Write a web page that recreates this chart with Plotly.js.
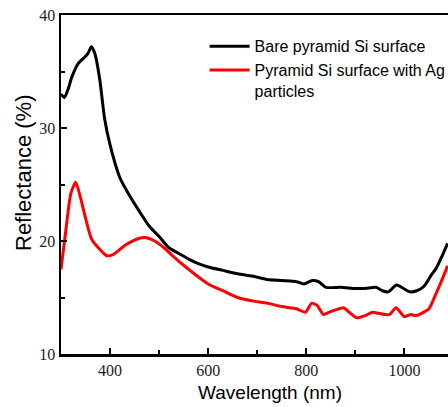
<!DOCTYPE html>
<html>
<head>
<meta charset="utf-8">
<script src="https://cdn.plot.ly/plotly-3.0.1.min.js"></script>
<style>
html,body{margin:0;padding:0;background:#fff;overflow:hidden;}
#frame{width:448px;height:407px;overflow:hidden;}
#chart{width:480px;height:407px;}
</style>
</head>
<body>
<div id="frame"><div id="chart"></div></div>
<script>
// Bare pyramid Si surface
const bareWavelength = [300,307,315,322,335,349,355,362,369,379,389,400,420,440,460,480,500,520,540,560,580,600,630,660,690,720,750,780,795,812,825,840,870,900,920,942,955,967,984,998,1011,1025,1040,1055,1065,1076,1088];
const bareReflectance = [33.0,32.7,33.5,34.5,35.7,36.3,36.6,37.2,36.6,34.3,30.8,28.5,25.6,24.0,22.6,21.3,20.4,19.4,18.9,18.4,18.0,17.7,17.4,17.1,16.9,16.6,16.5,16.4,16.2,16.5,16.4,15.9,15.9,15.8,15.8,15.9,15.6,15.5,16.1,15.8,15.5,15.6,16.0,17.0,17.6,18.6,19.8];

// Pyramid Si surface with Ag particles
const agWavelength = [300,310,320,330,340,349,362,376,393,406,430,457,471,491,510,530,560,600,630,660,690,720,750,780,798,811,822,835,847,860,876,890,903,920,935,947,960,970,983,1000,1013,1023,1035,1050,1064,1075,1088];
const agReflectance = [17.5,21.0,24.2,25.2,23.8,22.2,20.2,19.4,18.7,18.8,19.6,20.2,20.3,20.0,19.4,18.6,17.5,16.2,15.6,15.0,14.7,14.5,14.2,14.0,13.7,14.5,14.3,13.5,13.7,13.9,14.1,13.6,13.2,13.4,13.7,13.6,13.5,13.5,14.1,13.3,13.5,13.4,13.6,14.0,15.3,16.4,17.8];

const seriesNames = ["Bare pyramid Si surface", "Pyramid Si surface with Ag<br>particles"];
const xTickValues = [400, 600, 800, 1000];
const yTickValues = [10, 20, 30, 40];

const traces = [
  {x: bareWavelength, y: bareReflectance, name: seriesNames[0], type: 'scatter', mode: 'lines',
   line: {color: '#000000', width: 3, shape: 'spline', smoothing: 0.6}},
  {x: agWavelength, y: agReflectance, name: seriesNames[1], type: 'scatter', mode: 'lines',
   line: {color: '#ff0000', width: 3, shape: 'spline', smoothing: 0.6}}
];

const tickFont = {family: '"Liberation Serif", "Times New Roman", serif', size: 16, color: '#222'};
const sansFont = '"Liberation Sans", Arial, sans-serif';
const plotW = 418; // plot area width in px (61 .. 479), right part cropped by the 448px window
const layout = {
  width: 480, height: 407,
  margin: {l: 61, r: 1, t: 15, b: 53, pad: 0, autoexpand: false},
  paper_bgcolor: '#fff', plot_bgcolor: '#fff',
  showlegend: true,
  legend: {x: (204.6 - 61) / plotW, y: 0.958, xanchor: 'left', yanchor: 'top', bgcolor: 'rgba(0,0,0,0)',
    font: {family: sansFont, size: 16, color: '#000'},
    itemwidth: 40, tracegroupgap: 0, valign: 'top'},
  xaxis: {
    range: [300, 1152], tickvals: xTickValues, ticktext: xTickValues.map(String),
    ticks: 'inside', ticklen: 6, tickwidth: 2, tickcolor: '#000',
    minor: {dtick: 100, tick0: 0, ticks: 'inside', ticklen: 4, tickwidth: 2, tickcolor: '#000', showgrid: false},
    showline: true, linewidth: 2.5, linecolor: '#000', mirror: true,
    showgrid: false, zeroline: false, tickfont: tickFont,
    title: {text: 'Wavelength (nm)', font: {family: sansFont, size: 19, color: '#000'}, standoff: 8},
    automargin: false
  },
  yaxis: {
    range: [10, 40], tickvals: yTickValues, ticktext: yTickValues.map(String),
    ticks: 'inside', ticklen: 6, tickwidth: 2, tickcolor: '#000',
    minor: {dtick: 5, tick0: 0, ticks: 'inside', ticklen: 4, tickwidth: 2, tickcolor: '#000', showgrid: false},
    showline: true, linewidth: 2.5, linecolor: '#000', mirror: false,
    showgrid: false, zeroline: false, tickfont: tickFont,
    automargin: false
  },
  annotations: [{
    text: 'Reflectance (%)', textangle: -90, showarrow: false,
    xref: 'paper', yref: 'paper', x: (23 - 61) / plotW, y: (354 - 173) / 339,
    xanchor: 'center', yanchor: 'middle',
    font: {family: sansFont, size: 22, color: '#000'}
  }]
};

Plotly.newPlot('chart', traces, layout, {staticPlot: true, displayModeBar: false});
</script>
</body>
</html>
